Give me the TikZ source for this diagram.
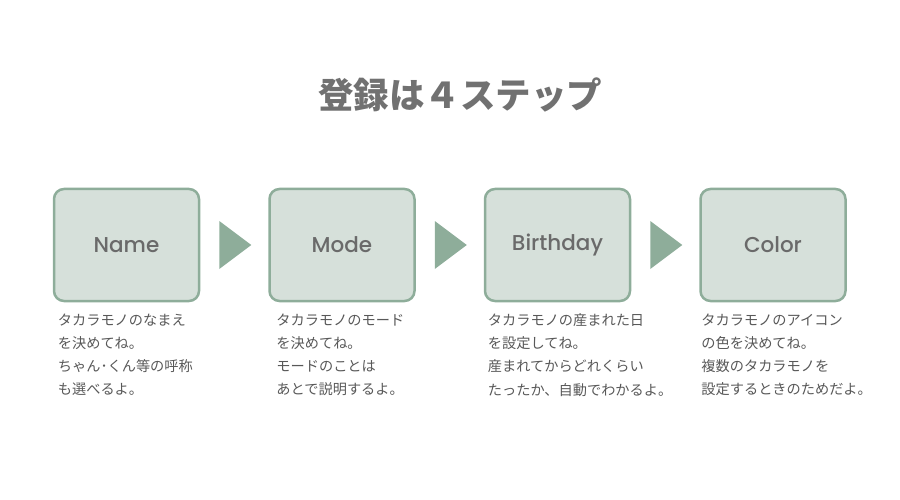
\documentclass[tikz,border=0pt]{standalone}
\usepackage{fontspec}
\newfontfamily\jpfont{Noto Sans CJK JP}
\newfontfamily\labelfont{Poppins Medium}
\usetikzlibrary{positioning, calc}

\definecolor{stepfill}{HTML}{D6E0DA}
\definecolor{stepline}{HTML}{8EAD9A}
\definecolor{titlegray}{HTML}{717171}
\definecolor{labelgray}{HTML}{6A6A6A}
\definecolor{notegray}{HTML}{585858}

\begin{document}
\begin{tikzpicture}[x=1pt, y=-1pt,
    stepbox/.style={draw=stepline, fill=stepfill, line width=2.5pt,
        rounded corners=10pt, minimum width=145pt, minimum height=112pt,
        font=\labelfont\fontsize{21.5}{24}\selectfont, text=labelgray},
    note/.style={anchor=north west, inner sep=0pt, align=left,
        font=\jpfont\fontsize{14.2}{23.3}\selectfont, text=notegray},
    pointer/.style={fill=stepline}]
    % ================= Canvas =================
    \path[use as bounding box] (0,0) rectangle (900,500);

    % ================= Title =================
    \node[font=\jpfont\bfseries\fontsize{35.5}{40}\selectfont, text=titlegray]
        (title) at (460,95) {登録は４ステップ};

    % ================= Step boxes =================
    \node[stepbox] (name) at (126.5,245) {Name};
    \node[stepbox, right=68pt of name] (mode) {Mode};
    \node[stepbox, right=68pt of mode] (birthday) {Birthday};
    \node[stepbox, right=68pt of birthday] (color) {Color};

    % ================= Pointers between steps =================
    \fill[pointer] ($(name.east)+(19,-24)$) -- ($(name.east)+(51,0)$) -- ($(name.east)+(19,24)$) -- cycle;
    \fill[pointer] ($(mode.east)+(19,-24)$) -- ($(mode.east)+(51,0)$) -- ($(mode.east)+(19,24)$) -- cycle;
    \fill[pointer] ($(birthday.east)+(19,-24)$) -- ($(birthday.east)+(51,0)$) -- ($(birthday.east)+(19,24)$) -- cycle;

    % ================= Notes =================
    \node[note] (namenote) at ($(name.south west)+(5,11)$)
        {タカラモノのなまえ\\を決めてね。\\ちゃん･くん等の呼称\\も選べるよ。};
    \node[note] (modenote) at ($(mode.south west)+(8,11)$)
        {タカラモノのモード\\を決めてね。\\モードのことは\\あとで説明するよ。};
    \node[note] (birthdaynote) at ($(birthday.south west)+(4,11)$)
        {タカラモノの産まれた日\\を設定してね。\\産まれてからどれくらい\\たったか、自動でわかるよ。};
    \node[note] (colornote) at ($(color.south west)+(2,11)$)
        {タカラモノのアイコン\\の色を決めてね。\\複数のタカラモノを\\設定するときのためだよ。};
\end{tikzpicture}
\end{document}
